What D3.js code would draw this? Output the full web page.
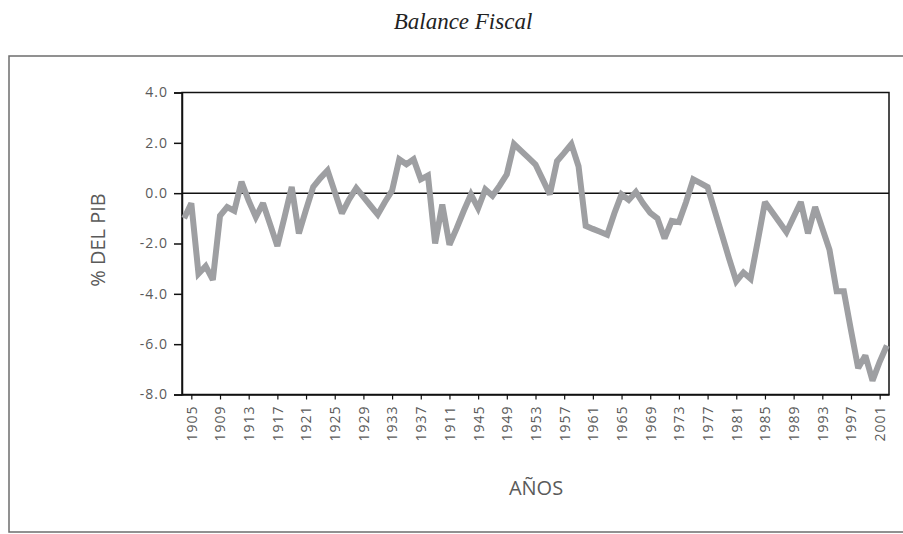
<!DOCTYPE html>
<html>
<head>
<meta charset="utf-8">
<script src="https://cdn.jsdelivr.net/npm/d3@7"></script>
<style>
  body { margin: 0; background: #fff; }
  svg { display: block; }
  text { font-family: "Open Sans", sans-serif; }
</style>
</head>
<body>
<svg width="903" height="534"></svg>
<script>
var years = [1904, 1905, 1906, 1907, 1908, 1909, 1910, 1911, 1912, 1913,
    1914, 1915, 1916, 1917, 1918, 1919, 1920, 1921, 1922, 1923,
    1924, 1925, 1926, 1927, 1928, 1929, 1930, 1931, 1932, 1933,
    1934, 1935, 1936, 1937, 1938, 1939, 1940, 1941, 1942, 1943,
    1944, 1945, 1946, 1947, 1948, 1949, 1950, 1951, 1952, 1953,
    1954, 1955, 1956, 1957, 1958, 1959, 1960, 1961, 1962, 1963,
    1964, 1965, 1966, 1967, 1968, 1969, 1970, 1971, 1972, 1973,
    1974, 1975, 1976, 1977, 1978, 1979, 1980, 1981, 1982, 1983,
    1984, 1985, 1986, 1987, 1988, 1989, 1990, 1991, 1992, 1993,
    1994, 1995, 1996, 1997, 1998, 1999, 2000, 2001, 2002];

// balance fiscal, % del PIB
var balance = [-1.0, -0.4, -3.2, -2.9, -3.45, -0.9, -0.55, -0.7, 0.45, -0.3,
    -0.95, -0.4, -1.25, -2.1, -0.95, 0.25, -1.6, -0.65, 0.25, 0.6,
    0.9, 0.05, -0.8, -0.25, 0.2, -0.15, -0.5, -0.85, -0.35, 0.1,
    1.35, 1.15, 1.35, 0.55, 0.7, -2.0, -0.45, -2.05, -1.4, -0.7,
    -0.05, -0.6, 0.15, -0.1, 0.3, 0.75, 1.95, 1.68, 1.41, 1.14,
    0.55, -0.05, 1.27, 1.6, 1.95, 1.07, -1.3, -1.42, -1.53, -1.65,
    -0.8, -0.05, -0.27, 0.05, -0.4, -0.78, -1.0, -1.8, -1.1, -1.15,
    -0.35, 0.55, 0.4, 0.24, -0.7, -1.65, -2.6, -3.5, -3.15, -3.4,
    -1.9, -0.35, -0.75, -1.15, -1.55, -0.95, -0.35, -1.6, -0.55, -1.4,
    -2.25, -3.9, -3.9, -5.45, -6.95, -6.45, -7.45, -6.7, -6.05];

var tickYears = [1905, 1909, 1913, 1917, 1921, 1925, 1929, 1933, 1937, 1941, 1945, 1949, 1953,
    1957, 1961, 1965, 1969, 1973, 1977, 1981, 1985, 1989, 1993, 1997, 2001];
var tickLabels = ["1905", "1909", "1913", "1917", "1921", "1925", "1929", "1933", "1937", "1911", "1945", "1949", "1953",
    "1957", "1961", "1965", "1969", "1973", "1977", "1981", "1985", "1989", "1993", "1997", "2001"];
var yTicks = [4, 2, 0, -2, -4, -6, -8];

var plotLeft = 182, plotRight = 889, plotTop = 92.5, plotBottom = 394.5;
var svg = d3.select("svg");

// outer frame
svg.append("rect")
    .attr("x", 9).attr("y", 56)
    .attr("width", 905).attr("height", 476)
    .attr("fill", "none")
    .attr("stroke", "#6d6d6d")
    .attr("stroke-width", 1.5);

svg.append("text")
    .attr("x", 463).attr("y", 29)
    .attr("text-anchor", "middle")
    .style("font-family", "'Liberation Serif', serif")
    .style("font-style", "italic")
    .style("font-size", "23px")
    .attr("fill", "#222")
    .text("Balance Fiscal");

var x = d3.scalePoint().domain(years).range([plotLeft, plotRight]).padding(0.3);
var y = d3.scaleLinear().domain([-8, 4]).range([plotBottom, plotTop]);

// plot border
svg.append("rect")
    .attr("x", plotLeft).attr("y", plotTop)
    .attr("width", plotRight - plotLeft).attr("height", plotBottom - plotTop)
    .attr("fill", "none")
    .attr("stroke", "#111")
    .attr("stroke-width", 1.5);

svg.append("line")
    .attr("x1", plotLeft).attr("x2", plotRight)
    .attr("y1", y(0)).attr("y2", y(0))
    .attr("stroke", "#111")
    .attr("stroke-width", 1.5);

var yAxis = svg.append("g")
    .attr("transform", "translate(" + plotLeft + ",0)")
    .call(d3.axisLeft(y).tickValues(yTicks).tickSize(8).tickPadding(6)
        .tickFormat(function(d){ return d.toFixed(1); }));
yAxis.select(".domain").attr("stroke", "#111").attr("stroke-width", 1.5);
yAxis.selectAll(".tick line").attr("stroke", "#111").attr("stroke-width", 1.5);
yAxis.selectAll("text")
    .style("font-size", "14px")
    .style("letter-spacing", "1px")
    .attr("fill", "#5a5a5a");

var xAxis = svg.append("g")
    .attr("transform", "translate(0," + plotBottom + ")")
    .call(d3.axisBottom(x).tickValues(tickYears).tickSize(5).tickSizeOuter(0)
        .tickFormat(function(d, i){ return tickLabels[i]; }));
xAxis.select(".domain").attr("stroke", "#111").attr("stroke-width", 1.5);
xAxis.selectAll(".tick line").attr("stroke", "#111").attr("stroke-width", 1.2);
xAxis.selectAll("text")
    .style("font-size", "14px")
    .style("letter-spacing", "1px")
    .attr("fill", "#5a5a5a")
    .attr("text-anchor", "end")
    .attr("transform", "rotate(-90)")
    .attr("x", -11)
    .attr("y", 0)
    .attr("dy", "0.35em");

var line = d3.line()
    .x(function(d, i){ return x(years[i]); })
    .y(function(d){ return y(d); });

svg.append("path")
    .datum(balance)
    .attr("d", line)
    .attr("fill", "none")
    .attr("stroke", "#9e9fa2")
    .attr("stroke-width", 6)
    .attr("stroke-linejoin", "miter")
    .attr("stroke-miterlimit", 2.5);

svg.append("text")
    .attr("transform", "translate(98,240) rotate(-90)")
    .attr("text-anchor", "middle")
    .attr("dy", "0.35em")
    .style("font-size", "20px")
    .attr("fill", "#5a5a5a")
    .text("% DEL PIB");

svg.append("text")
    .attr("x", 536).attr("y", 488)
    .attr("text-anchor", "middle")
    .attr("dy", "0.35em")
    .style("font-size", "20px")
    .attr("fill", "#5a5a5a")
    .text("AÑOS");
</script>
</body>
</html>
